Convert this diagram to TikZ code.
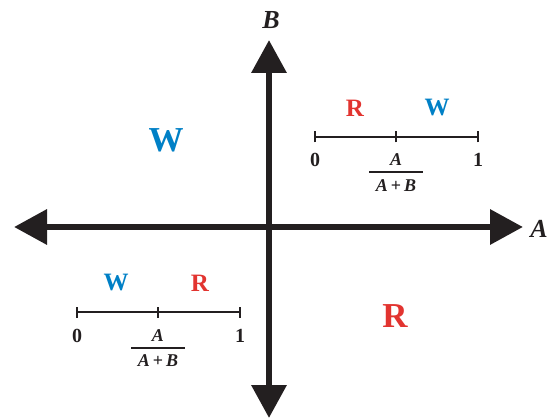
\documentclass[tikz,border=0pt]{standalone}
\usepackage{fontspec}
\setmainfont{Liberation Serif}
\usetikzlibrary{arrows.meta}
\definecolor{axisc}{RGB}{35,31,32}
\definecolor{redc}{RGB}{226,52,48}
\definecolor{bluec}{RGB}{0,128,198}
\tikzset{
  axis/.style={line width=6.5pt, color=axisc, {Triangle[length=33pt,width=34pt]}-{Triangle[length=33pt,width=34pt]}},
  scaleline/.style={line width=1.8pt, color=axisc},
  tickmark/.style={line width=1.8pt, color=axisc},
  bigl/.style={font=\fontsize{35}{35}\selectfont\bfseries, inner sep=0pt},
  smalll/.style={font=\fontsize{25}{25}\selectfont\bfseries, inner sep=0pt},
  digit/.style={font=\fontsize{20}{20}\selectfont\bfseries, inner sep=0pt, text=axisc},
  frac/.style={font=\fontsize{18}{18}\selectfont\bfseries, inner sep=0pt, text=axisc},
  axlabel/.style={font=\fontsize{26}{26}\selectfont\bfseries\itshape, inner sep=0pt, text=axisc}
}
\begin{document}
\begin{tikzpicture}[x=1pt,y=-1pt]
\useasboundingbox (0,0) rectangle (548,419);
% axes
\coordinate (L) at (14,227);
\coordinate (R) at (523,227);
\coordinate (T) at (269,40);
\coordinate (D) at (269,418);
\draw[axis] (L) -- (R);
\draw[axis] (T) -- (D);
\node[axlabel] (labA) at (539,229) {A};
\node[axlabel] (labB) at (271,20) {B};
% big region labels
\node[bigl, text=bluec] (bigW) at (166,140) {W};
\node[bigl, text=redc] (bigR) at (395,316) {R};
% top-right scale
\coordinate (s1a) at (315,137);
\coordinate (s1m) at (396,137);
\coordinate (s1b) at (478,137);
\draw[scaleline] (s1a) -- (s1b);
\foreach \c in {s1a,s1m,s1b} \draw[tickmark] ([yshift=-5.5pt]\c) -- ([yshift=5.5pt]\c);
\node[smalll, text=redc] (r1) at (355,108) {R};
\node[smalll, text=bluec] (w1) at (437,108) {W};
\node[digit] (z1) at (315,160) {0};
\node[digit] (o1) at (478,160) {1};
\node[frac] (n1) at (396,160) {\textit{A}};
\node[frac] (d1) at (396,186) {\textit{A}\,\textup{+}\,\textit{B}};
\coordinate (b1a) at (369,172);
\coordinate (b1b) at (423,172);
\draw[line width=1.2pt, color=axisc] (b1a) -- (b1b);
% bottom-left scale
\coordinate (s2a) at (77,312);
\coordinate (s2m) at (158,312);
\coordinate (s2b) at (240,312);
\draw[scaleline] (s2a) -- (s2b);
\foreach \c in {s2a,s2m,s2b} \draw[tickmark] ([yshift=-5.5pt]\c) -- ([yshift=5.5pt]\c);
\node[smalll, text=bluec] (w2) at (116,283) {W};
\node[smalll, text=redc] (r2) at (200,283) {R};
\node[digit] (z2) at (77,336) {0};
\node[digit] (o2) at (240,336) {1};
\node[frac] (n2) at (158,336) {\textit{A}};
\node[frac] (d2) at (158,361) {\textit{A}\,\textup{+}\,\textit{B}};
\coordinate (b2a) at (131,348);
\coordinate (b2b) at (185,348);
\draw[line width=1.2pt, color=axisc] (b2a) -- (b2b);
\end{tikzpicture}
\end{document}
